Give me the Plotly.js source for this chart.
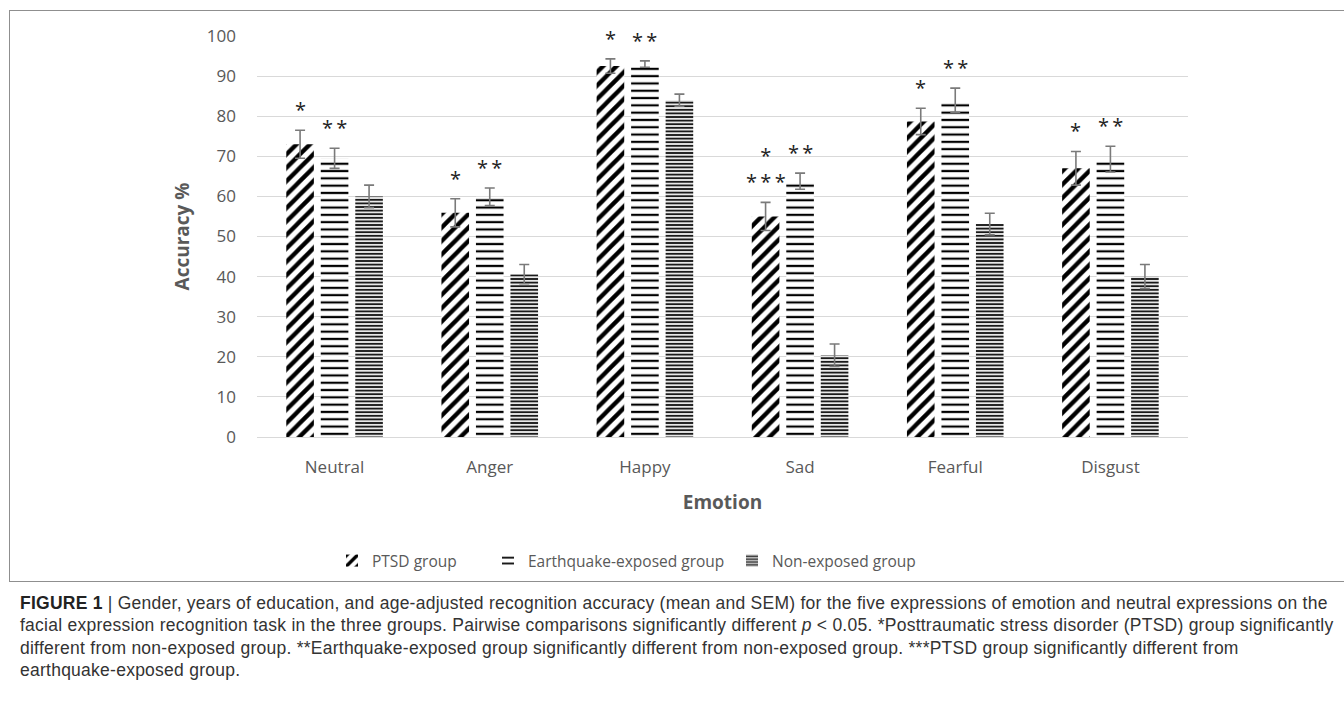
<!DOCTYPE html>
<html><head><meta charset="utf-8">
<script src="https://cdn.plot.ly/plotly-3.0.1.min.js"></script>
<style>
body{margin:0;background:#fff;}
#wrap{position:relative;width:1344px;height:712px;overflow:hidden;background:#fff;}
#frame{position:absolute;left:9px;top:10px;width:1340px;height:570px;border:1px solid #8f8f8f;}
#chart{position:absolute;left:0;top:0;width:1344px;height:712px;}
#cap{position:absolute;left:20px;top:592px;font-family:"Liberation Sans",Arial,sans-serif;font-size:17.5px;letter-spacing:0.25px;line-height:22.4px;color:#333;white-space:nowrap;}
#cap b{color:#222;}
</style></head>
<body>
<div id="wrap">
<div id="frame"></div>
<div id="chart"></div>
<div id="cap"></div>
</div>
<script>
const categories = ['Neutral','Anger','Happy','Sad','Fearful','Disgust'];
const seriesNames = ['PTSD group','Earthquake-exposed group','Non-exposed group'];
const ptsd      = [73, 55.9, 92.5, 55, 78.7, 67];
const ptsdErr   = [3.5, 3.5, 1.8, 3.5, 3.3, 4.2];
const quake     = [69.5, 59.9, 93, 63.8, 84, 69.3];
const quakeErr  = [2.5, 2.2, 0.8, 2, 3, 3.2];
const nonexp    = [60, 40.6, 84, 20.4, 53.1, 40];
const nonexpErr = [2.8, 2.4, 1.5, 2.8, 2.7, 3];
const ptsdStars  = ['*','*','*','*<br>*\u2009*\u2009*','*','*'];
const quakeStars = ['*\u2009*','*\u2009*','*\u2009*','*\u2009*','*\u2009*','*\u2009*'];
const captionLines = [
  '<b>FIGURE 1</b> | Gender, years of education, and age-adjusted recognition accuracy (mean and SEM) for the five expressions of emotion and neutral expressions on the',
  'facial expression recognition task in the three groups. Pairwise comparisons significantly different <i>p</i> &lt; 0.05. *Posttraumatic stress disorder (PTSD) group significantly',
  'different from non-exposed group. **Earthquake-exposed group significantly different from non-exposed group. ***PTSD group significantly different from',
  'earthquake-exposed group.'
];

const W = 1344, H = 712;
const margin = {l: 257, r: 156, t: 36, b: 275};
const plotW = W - margin.l - margin.r;
const bargap = 0.333;
const slotPx = (plotW / categories.length) * (1 - bargap) / 3;
const font = '"Open Sans", "Liberation Sans", sans-serif';
const gray = '#595959';
const errStyle = {type: 'data', visible: true, color: '#7a7a7a', thickness: 1.6, width: 5};

const patterns = [
  {shape: '/', fgcolor: '#000', bgcolor: '#fff', size: 9.5, solidity: 0.45, fillmode: 'replace'},
  {shape: '-', fgcolor: '#000', bgcolor: '#fff', size: 7.3, solidity: 0.3, fillmode: 'replace'},
  {shape: '-', fgcolor: '#1a1a1a', bgcolor: '#fff', size: 3.6, solidity: 0.55, fillmode: 'replace'}
];
const vals = [ptsd, quake, nonexp];
const errs = [ptsdErr, quakeErr, nonexpErr];
const legendIds = ['legend', 'legend2', 'legend3'];

const traces = vals.map((v, s) => ({
  type: 'bar', name: seriesNames[s], x: categories, y: v,
  error_y: Object.assign({array: errs[s]}, errStyle),
  marker: {color: '#fff', pattern: patterns[s], line: {width: 0}},
  legend: legendIds[s], hoverinfo: 'x+y'
}));

const annotations = [];
[ptsdStars, quakeStars].forEach((stars, s) => {
  stars.forEach((t, i) => {
    annotations.push({
      x: categories[i], y: vals[s][i] + errs[s][i], xref: 'x', yref: 'y',
      text: t, showarrow: false, yanchor: 'bottom', yshift: 5,
      xshift: (s - 1) * slotPx,
      font: {family: font, size: 20, color: '#222'}
    });
  });
});

const legendTextLeft = [372, 528, 772];
const legendY = (437 - 561) / 401;
const mkLegend = (px) => ({
  orientation: 'h', x: (px - 40 - margin.l) / plotW, xanchor: 'left',
  y: legendY, yanchor: 'middle', font: {family: font, size: 15.5, color: gray},
  bgcolor: 'rgba(0,0,0,0)', itemwidth: 30
});

const layout = {
  width: W, height: H, margin: margin,
  paper_bgcolor: 'rgba(0,0,0,0)', plot_bgcolor: 'rgba(0,0,0,0)',
  barmode: 'group', bargap: bargap, bargroupgap: 0.2,
  showlegend: true,
  legend: mkLegend(legendTextLeft[0]),
  legend2: mkLegend(legendTextLeft[1]),
  legend3: mkLegend(legendTextLeft[2]),
  xaxis: {
    type: 'category', showgrid: false, showline: true, linecolor: '#d9d9d9', linewidth: 1,
    ticks: '', tickfont: {family: font, size: 17, color: gray}, ticklabelstandoff: 15,
    title: {text: '<b>Emotion</b>', font: {family: font, size: 19, color: gray}, standoff: 18}
  },
  yaxis: {
    range: [0, 100], dtick: 10, showgrid: true, gridcolor: '#d9d9d9', gridwidth: 1,
    zeroline: true, zerolinecolor: '#d9d9d9', showline: false, ticks: '',
    tickfont: {family: font, size: 17, color: gray}, ticklabelstandoff: 20,
    title: {text: '<b>Accuracy %</b>', font: {family: font, size: 19, color: gray}, standoff: 12}
  },
  annotations: annotations
};

Plotly.newPlot('chart', traces, layout, {displayModeBar: false, staticPlot: true});
document.getElementById('cap').innerHTML = captionLines.join('<br>');
</script>
</body></html>
